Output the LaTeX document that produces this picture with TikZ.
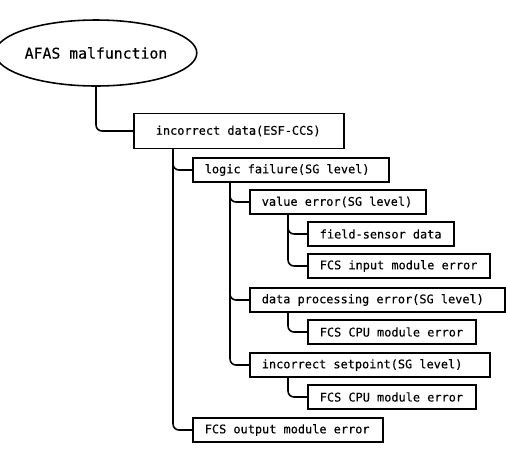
\documentclass[tikz,border=0pt]{standalone}
\usepackage{fontspec}
\newfontfamily\boxfont[FakeBold=0.3]{DejaVu Sans Mono}
\usepackage{tikz}
\usetikzlibrary{shapes.geometric}

\begin{document}
\begin{tikzpicture}[x=1pt,y=-1pt,
  box/.style={rectangle,draw=black,line width=0.55mm,anchor=west,
    minimum height=24pt,inner xsep=12pt,inner ysep=0pt,
    execute at begin node={\hbox to #1\bgroup},
    execute at end node={\hss\egroup},
    font=\boxfont\fontsize{11.9}{14}\selectfont},
  branch/.style={line width=0.55mm,rounded corners=6pt}]
\useasboundingbox (0,0) rectangle (506,448);
% \draw[help lines,step=20] (0,0) grid (506,448);
\node (root) [ellipse,draw=black,line width=0.55mm,minimum width=174pt,
  minimum height=66pt,inner sep=0pt,
  font=\boxfont\fontsize{14.8}{17}\selectfont] at (96,53) {AFAS malfunction};
\node (data) [box=166pt,minimum height=35pt,inner xsep=22pt] at (133,131) {incorrect data(ESF-CCS)};
\node (logic) [box=172pt] at (192,170) {logic failure(SG level)};
\node (value) [box=152pt] at (249,202) {value error(SG level)};
\node (sensor) [box=122pt] at (307,234) {field-sensor data};
\node (input) [box=158pt] at (307,266) {FCS input module error};
\node (proc) [box=231pt] at (249,300) {data processing error(SG level)};
\node (cpua) [box=144pt] at (307,332) {FCS CPU module error};
\node (setp) [box=216pt] at (249,365) {incorrect setpoint(SG level)};
\node (cpub) [box=144pt] at (307,397) {FCS CPU module error};
\node (output) [box=166pt] at (192,430) {FCS output module error};
%
\draw[branch] (root.south) |- (data.west);
\draw[branch] ([xshift=40pt]data.south west) |- (logic.west);
\draw[branch] ([xshift=40pt]data.south west) |- (output.west);
\draw[branch] ([xshift=38pt]logic.south west) |- (value.west);
\draw[branch] ([xshift=38pt]logic.south west) |- (proc.west);
\draw[branch] ([xshift=38pt]logic.south west) |- (setp.west);
\draw[branch] ([xshift=39pt]value.south west) |- (sensor.west);
\draw[branch] ([xshift=39pt]value.south west) |- (input.west);
\draw[branch] ([xshift=39pt]proc.south west) |- (cpua.west);
\draw[branch] ([xshift=39pt]setp.south west) |- (cpub.west);
\end{tikzpicture}
\end{document}
